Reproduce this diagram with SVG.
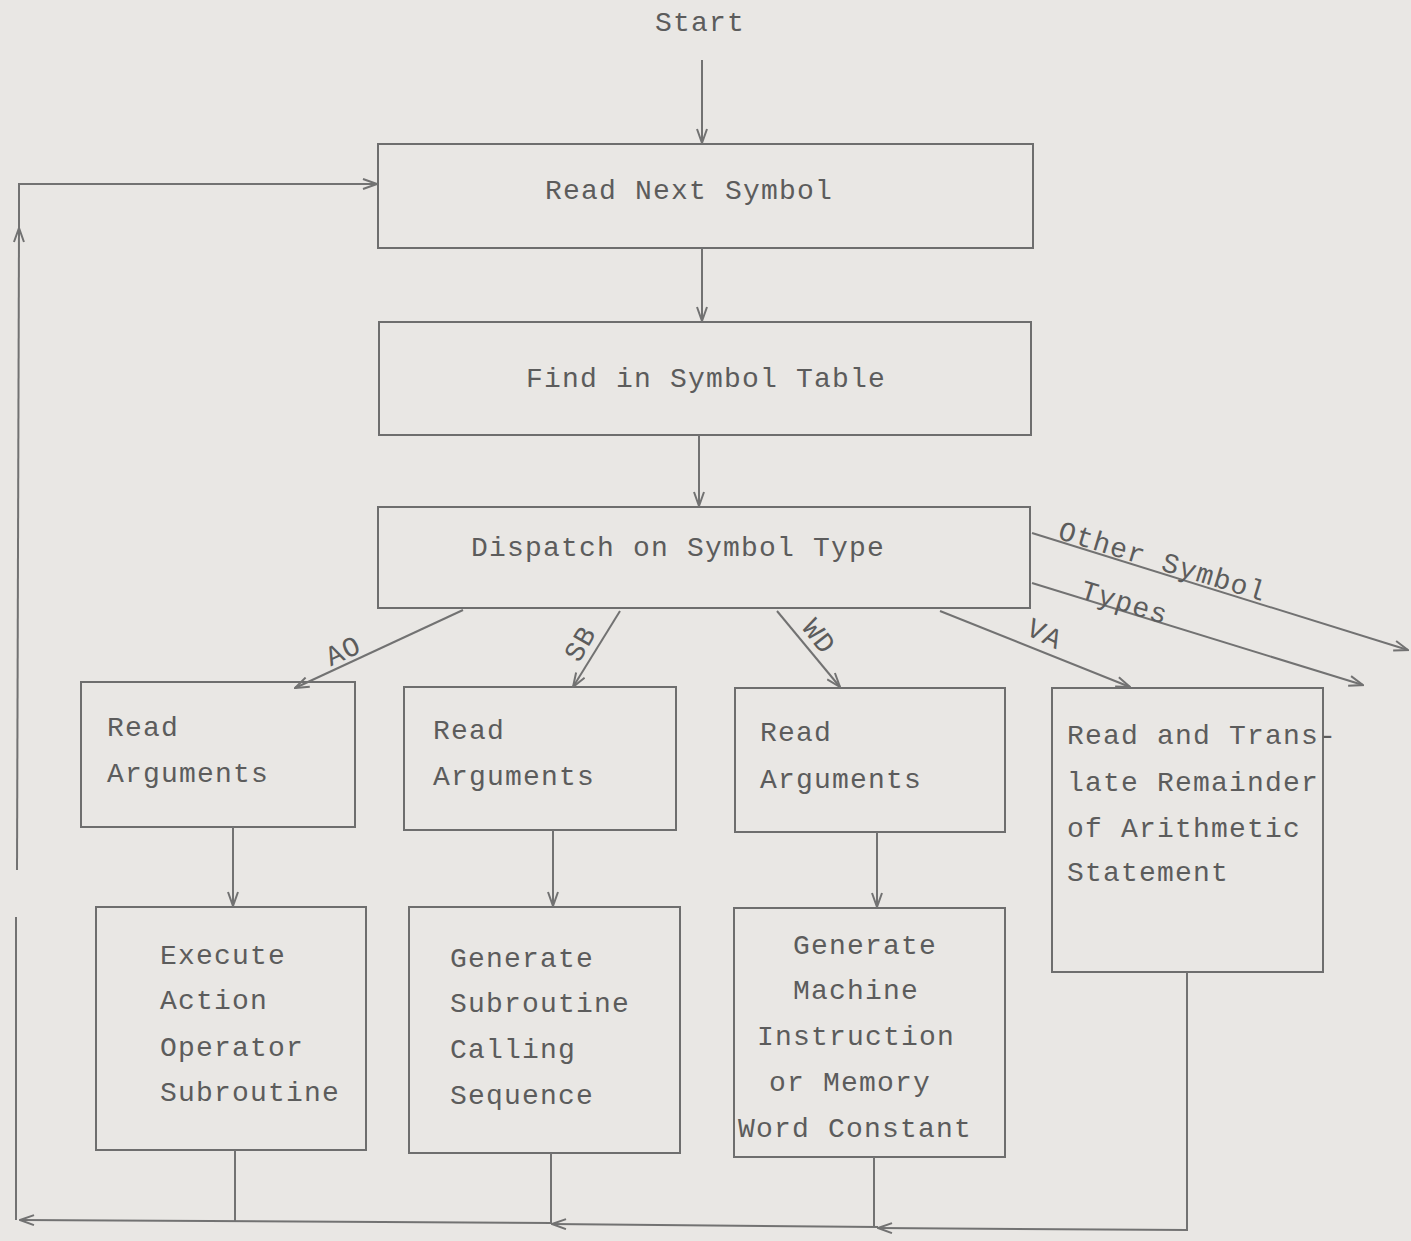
<svg xmlns="http://www.w3.org/2000/svg" width="1411" height="1241" viewBox="0 0 1411 1241">
<style>
.bg{fill:#e9e7e4}
.box{fill:none;stroke:#6e6e6e;stroke-width:2}
.ln{fill:none;stroke:#727272;stroke-width:2}
.t{font-family:"Liberation Mono","Courier New",monospace;font-size:28px;letter-spacing:1.2px;fill:#5c5c5c}
.m{text-anchor:middle}
</style>
<defs>
<marker id="ah" viewBox="0 0 16 12" refX="15" refY="6" markerWidth="16" markerHeight="12" markerUnits="userSpaceOnUse" orient="auto">
<path d="M1,1 L15,6 L1,11" fill="none" stroke="#727272" stroke-width="2"/>
</marker>
</defs>
<rect class="bg" x="0" y="0" width="1411" height="1241"/>

<g id="start"><text class="t m" x="700" y="31">Start</text></g>

<g id="read-next-symbol"><rect class="box" x="378" y="144" width="655" height="104"/><text class="t m" x="689" y="199">Read Next Symbol</text></g>
<g id="find-in-symbol-table"><rect class="box" x="379" y="322" width="652" height="113"/><text class="t m" x="706" y="387">Find in Symbol Table</text></g>
<g id="dispatch"><rect class="box" x="378" y="507" width="652" height="101"/><text class="t m" x="678" y="556">Dispatch on Symbol Type</text></g>

<g id="read-args-ao"><rect class="box" x="81" y="682" width="274" height="145"/><text class="t" x="107" y="736">Read</text><text class="t" x="107" y="782">Arguments</text></g>
<g id="read-args-sb"><rect class="box" x="404" y="687" width="272" height="143"/><text class="t" x="433" y="739">Read</text><text class="t" x="433" y="785">Arguments</text></g>
<g id="read-args-wd"><rect class="box" x="735" y="688" width="270" height="144"/><text class="t" x="760" y="741">Read</text><text class="t" x="760" y="788">Arguments</text></g>
<g id="read-translate"><rect class="box" x="1052" y="688" width="271" height="284"/><text class="t" x="1067" y="744">Read and Trans-</text><text class="t" x="1067" y="791">late Remainder</text><text class="t" x="1067" y="837">of Arithmetic</text><text class="t" x="1067" y="881">Statement</text></g>

<g id="execute-action"><rect class="box" x="96" y="907" width="270" height="243"/><text class="t" x="160" y="964">Execute</text><text class="t" x="160" y="1009">Action</text><text class="t" x="160" y="1056">Operator</text><text class="t" x="160" y="1101">Subroutine</text></g>
<g id="generate-subroutine"><rect class="box" x="409" y="907" width="271" height="246"/><text class="t" x="450" y="967">Generate</text><text class="t" x="450" y="1012">Subroutine</text><text class="t" x="450" y="1058">Calling</text><text class="t" x="450" y="1104">Sequence</text></g>
<g id="generate-machine"><rect class="box" x="734" y="908" width="271" height="249"/><text class="t m" x="865" y="954">Generate</text><text class="t m" x="856" y="999">Machine</text><text class="t m" x="856" y="1045">Instruction</text><text class="t m" x="850" y="1091">or Memory</text><text class="t m" x="855" y="1137">Word Constant</text></g>

<g id="connectors">
<line class="ln" x1="702" y1="60" x2="702" y2="143" marker-end="url(#ah)"/>
<line class="ln" x1="702" y1="248" x2="702" y2="321" marker-end="url(#ah)"/>
<line class="ln" x1="699" y1="435" x2="699" y2="506" marker-end="url(#ah)"/>
<line class="ln" x1="463" y1="610" x2="295" y2="688" marker-end="url(#ah)"/>
<line class="ln" x1="620" y1="611" x2="573" y2="687" marker-end="url(#ah)"/>
<line class="ln" x1="777" y1="611" x2="840" y2="687" marker-end="url(#ah)"/>
<line class="ln" x1="940" y1="611" x2="1130" y2="687" marker-end="url(#ah)"/>
<line class="ln" x1="1032" y1="533" x2="1408" y2="650" marker-end="url(#ah)"/>
<line class="ln" x1="1032" y1="583" x2="1363" y2="685" marker-end="url(#ah)"/>
<line class="ln" x1="233" y1="827" x2="233" y2="906" marker-end="url(#ah)"/>
<line class="ln" x1="553" y1="830" x2="553" y2="906" marker-end="url(#ah)"/>
<line class="ln" x1="877" y1="832" x2="877" y2="907" marker-end="url(#ah)"/>
<polyline class="ln" points="1187,972 1187,1230 878,1228" marker-end="url(#ah)"/>
<polyline class="ln" points="874,1157 874,1226"/>
<line class="ln" x1="878" y1="1227" x2="552" y2="1224" marker-end="url(#ah)"/>
<polyline class="ln" points="551,1153 551,1223"/>
<line class="ln" x1="552" y1="1223" x2="20" y2="1220" marker-end="url(#ah)"/>
<polyline class="ln" points="235,1150 235,1221"/>
<line class="ln" x1="16" y1="1220" x2="16" y2="917"/>
<line class="ln" x1="17" y1="870" x2="19" y2="228" marker-end="url(#ah)"/>
<polyline class="ln" points="19,232 19,184 377,184" marker-end="url(#ah)"/>
</g>

<g id="labels">
<text class="t m" transform="translate(347,659) rotate(-25)">AO</text>
<text class="t m" transform="translate(588,648) rotate(-60)">SB</text>
<text class="t m" transform="translate(812,642) rotate(52)">WD</text>
<text class="t m" transform="translate(1041,642) rotate(26)">VA</text>
<text class="t m" transform="translate(1160,570) rotate(17)">Other Symbol</text>
<text class="t m" transform="translate(1122,611) rotate(17)">Types</text>
</g>
</svg>
